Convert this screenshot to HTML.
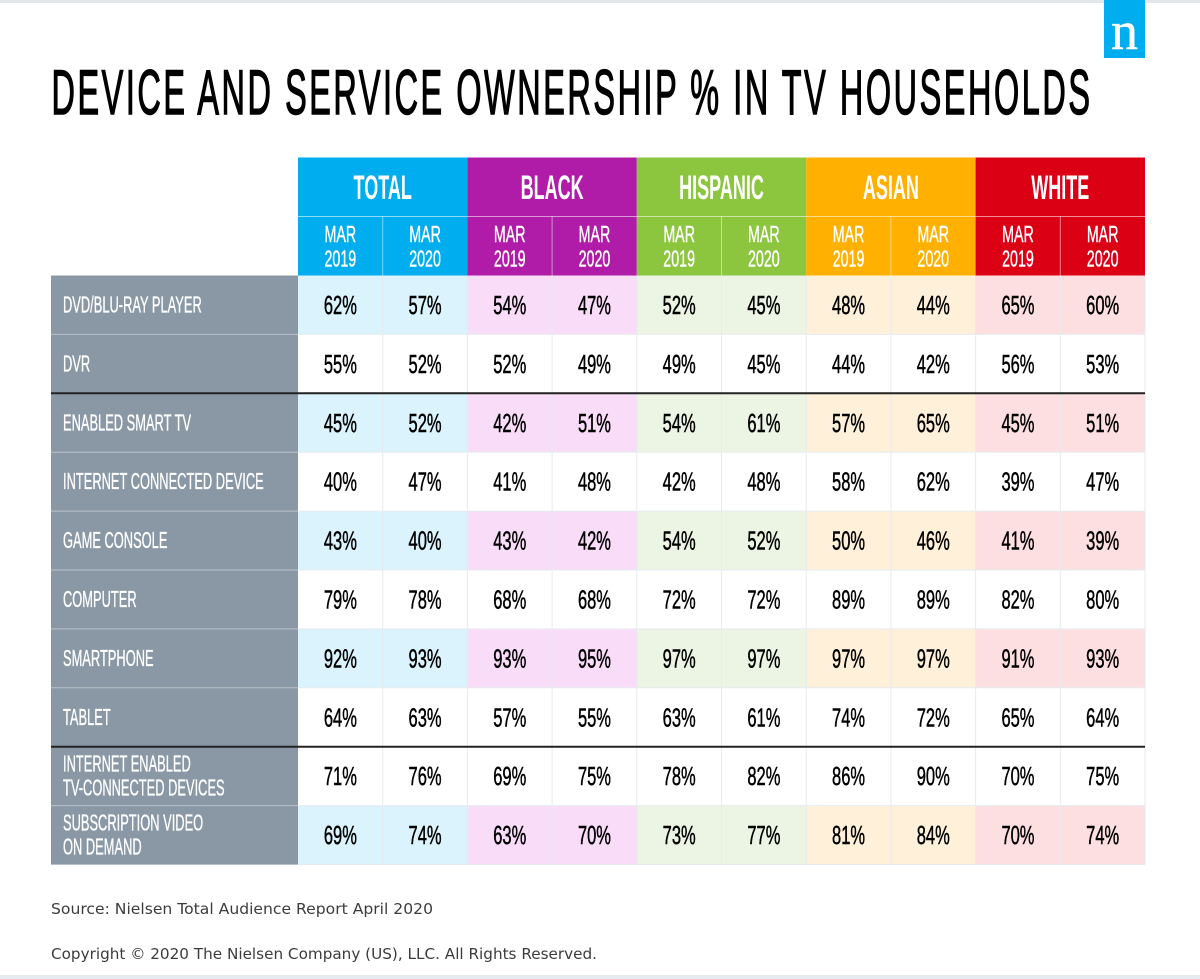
<!DOCTYPE html>
<html lang="en">
<head>
<meta charset="utf-8">
<title>Device and Service Ownership % in TV Households</title>
<style>
html,body{margin:0;padding:0;background:#fff;width:1200px;height:979px;overflow:hidden}
svg{display:block}
text{font-family:"Liberation Sans",sans-serif}
.foot{font-family:"DejaVu Sans",sans-serif;font-size:15px;fill:#3c3c3c}
</style>
</head>
<body>
<svg id="chart" xmlns="http://www.w3.org/2000/svg" width="1200" height="979" viewBox="0 0 1200 979">
  <rect x="0" y="0" width="1200" height="3" fill="#e3e7ec"/>
  <rect x="0" y="975" width="1200" height="4" fill="#e6eaf1"/>
  <g>
    <rect x="1104" y="0" width="41" height="58" fill="#00aeef"/>
    <text x="1124.5" y="49" text-anchor="middle" font-size="54" fill="#fff" stroke="#fff" stroke-width="0.5" style="font-family:'Liberation Serif',serif">n</text>
  </g>
  <text x="51.5" y="114" font-size="63" font-weight="400" fill="#000" stroke="#000" stroke-width="1.5" letter-spacing="5" textLength="1041" lengthAdjust="spacingAndGlyphs">DEVICE AND SERVICE OWNERSHIP % IN TV HOUSEHOLDS</text>
  <g id="table"></g>
  <text class="foot" x="51" y="914" textLength="382" lengthAdjust="spacingAndGlyphs">Source: Nielsen Total Audience Report April 2020</text>
  <text class="foot" x="51" y="959" textLength="546" lengthAdjust="spacingAndGlyphs">Copyright © 2020 The Nielsen Company (US), LLC. All Rights Reserved.</text>
</svg>
<script>
const groups = ["TOTAL", "BLACK", "HISPANIC", "ASIAN", "WHITE"];
const periods = ["2019", "2020"];
const rowLabels = [
  ["DVD/BLU-RAY PLAYER"],
  ["DVR"],
  ["ENABLED SMART TV"],
  ["INTERNET CONNECTED DEVICE"],
  ["GAME CONSOLE"],
  ["COMPUTER"],
  ["SMARTPHONE"],
  ["TABLET"],
  ["INTERNET ENABLED", "TV-CONNECTED DEVICES"],
  ["SUBSCRIPTION VIDEO", "ON DEMAND"]
];
const dvdValues = [62, 57, 54, 47, 52, 45, 48, 44, 65, 60];
const dvrValues = [55, 52, 52, 49, 49, 45, 44, 42, 56, 53];
const smartTvValues = [45, 52, 42, 51, 54, 61, 57, 65, 45, 51];
const connectedDeviceValues = [40, 47, 41, 48, 42, 48, 58, 62, 39, 47];
const gameConsoleValues = [43, 40, 43, 42, 54, 52, 50, 46, 41, 39];
const computerValues = [79, 78, 68, 68, 72, 72, 89, 89, 82, 80];
const smartphoneValues = [92, 93, 93, 95, 97, 97, 97, 97, 91, 93];
const tabletValues = [64, 63, 57, 55, 63, 61, 74, 72, 65, 64];
const tvConnectedValues = [71, 76, 69, 75, 78, 82, 86, 90, 70, 75];
const svodValues = [69, 74, 63, 70, 73, 77, 81, 84, 70, 74];
const tableValues = [dvdValues, dvrValues, smartTvValues, connectedDeviceValues, gameConsoleValues, computerValues, smartphoneValues, tabletValues, tvConnectedValues, svodValues];

const NS = "http://www.w3.org/2000/svg";
const table = document.getElementById("table");
const headColors = ["#00aeef", "#b01ca8", "#8cc63f", "#ffb000", "#dc0014"];
const tintColors = ["#daf3fc", "#f9dcf7", "#ecf4e3", "#fff0d9", "#fddfe2"];
const tintedRows = [true, false, true, false, true, false, true, false, false, true];

const left = 51, colStart = 298, colW = 84.7, top0 = 157.5, headH = 59, rowH = 58.9;
const columnX = i => colStart + i * colW;
const rowY = r => top0 + 2 * headH + r * rowH;

function rect(parent, x, y, w, h, fill) {
  const el = document.createElementNS(NS, "rect");
  el.setAttribute("x", x); el.setAttribute("y", y);
  el.setAttribute("width", w); el.setAttribute("height", h);
  el.setAttribute("fill", fill);
  parent.appendChild(el);
  return el;
}
function label(parent, str, cx, y, size, weight, fill, sx, anchor, strokeW) {
  const el = document.createElementNS(NS, "text");
  el.setAttribute("transform", "translate(" + cx + " " + y + ") scale(" + sx + " 1)");
  el.setAttribute("font-size", size);
  el.setAttribute("font-weight", weight);
  el.setAttribute("fill", fill);
  el.setAttribute("text-anchor", anchor);
  if (strokeW) {
    el.setAttribute("stroke", fill);
    el.setAttribute("stroke-width", strokeW);
  }
  el.textContent = str;
  parent.appendChild(el);
  return el;
}
function line(parent, x1, y1, x2, y2, color, width) {
  const el = document.createElementNS(NS, "line");
  el.setAttribute("x1", x1); el.setAttribute("y1", y1);
  el.setAttribute("x2", x2); el.setAttribute("y2", y2);
  el.setAttribute("stroke", color); el.setAttribute("stroke-width", width);
  parent.appendChild(el);
  return el;
}

groups.forEach((g, gi) => {
  const x = columnX(gi * 2), w = colW * 2;
  const head = rect(table, x, top0, w, headH * 2, headColors[gi]);
  
  
  const gt = label(table, g, x + w / 2, top0 + 41.5, 34, 700, "#fff", 0.53, "middle", 0);
  
  
  const hl = line(table, x, top0 + headH, x + w, top0 + headH, "rgba(255,255,255,.55)", 1);
  
  
  const vl = line(table, x + colW, top0 + headH, x + colW, top0 + 2 * headH, "rgba(255,255,255,.5)", 1);
  
  
  periods.forEach((p, pi) => {
    const cx = x + colW * (pi + 0.5);
    const m = label(table, "MAR", cx, top0 + headH + 25.5, 23, 400, "#fff", 0.62, "middle", 0.4);
    
    
    const yr = label(table, p, cx, top0 + headH + 50, 23, 400, "#fff", 0.62, "middle", 0.4);
    
    
  });
});

rowLabels.forEach((lines, r) => {
  const y = rowY(r);
  const bg = rect(table, left, y, colStart - left, rowH, "#8a98a6");
  
  
  lines.forEach((t, i) => {
    const base = lines.length === 1 ? y + 37 : y + 25 + i * 24;
    const l = label(table, t, 63, base, 23, 400, "#fff", 0.56, "start", 0.35);
    
    
  });
  tableValues[r].forEach((v, c) => {
    const gi = Math.floor(c / 2);
    const cell = rect(table, columnX(c), y, colW, rowH, tintedRows[r] ? tintColors[gi] : "#fff");
    
    
    const t = label(table, v + "%", columnX(c) + colW / 2, y + 38.5, 26, 400, "#000", 0.635, "middle", 0.5);
    
    
  });
});

for (let c = 1; c <= 10; c++) {
  const x = columnX(c);
  const gl = line(table, x, rowY(0), x, rowY(10), "#e6ebef", 1);
  
  
}
for (let r = 1; r <= 10; r++) {
  const y = rowY(r);
  const thick = r === 2 || r === 8;
  const a = line(table, left, y, colStart, y, thick ? "#222" : "#b9c2ca", thick ? 2 : 1);
  
  
  const b = line(table, colStart, y, columnX(10), y, thick ? "#222" : "#e6ebef", thick ? 2 : 1);
  
  
}
</script>
</body>
</html>
